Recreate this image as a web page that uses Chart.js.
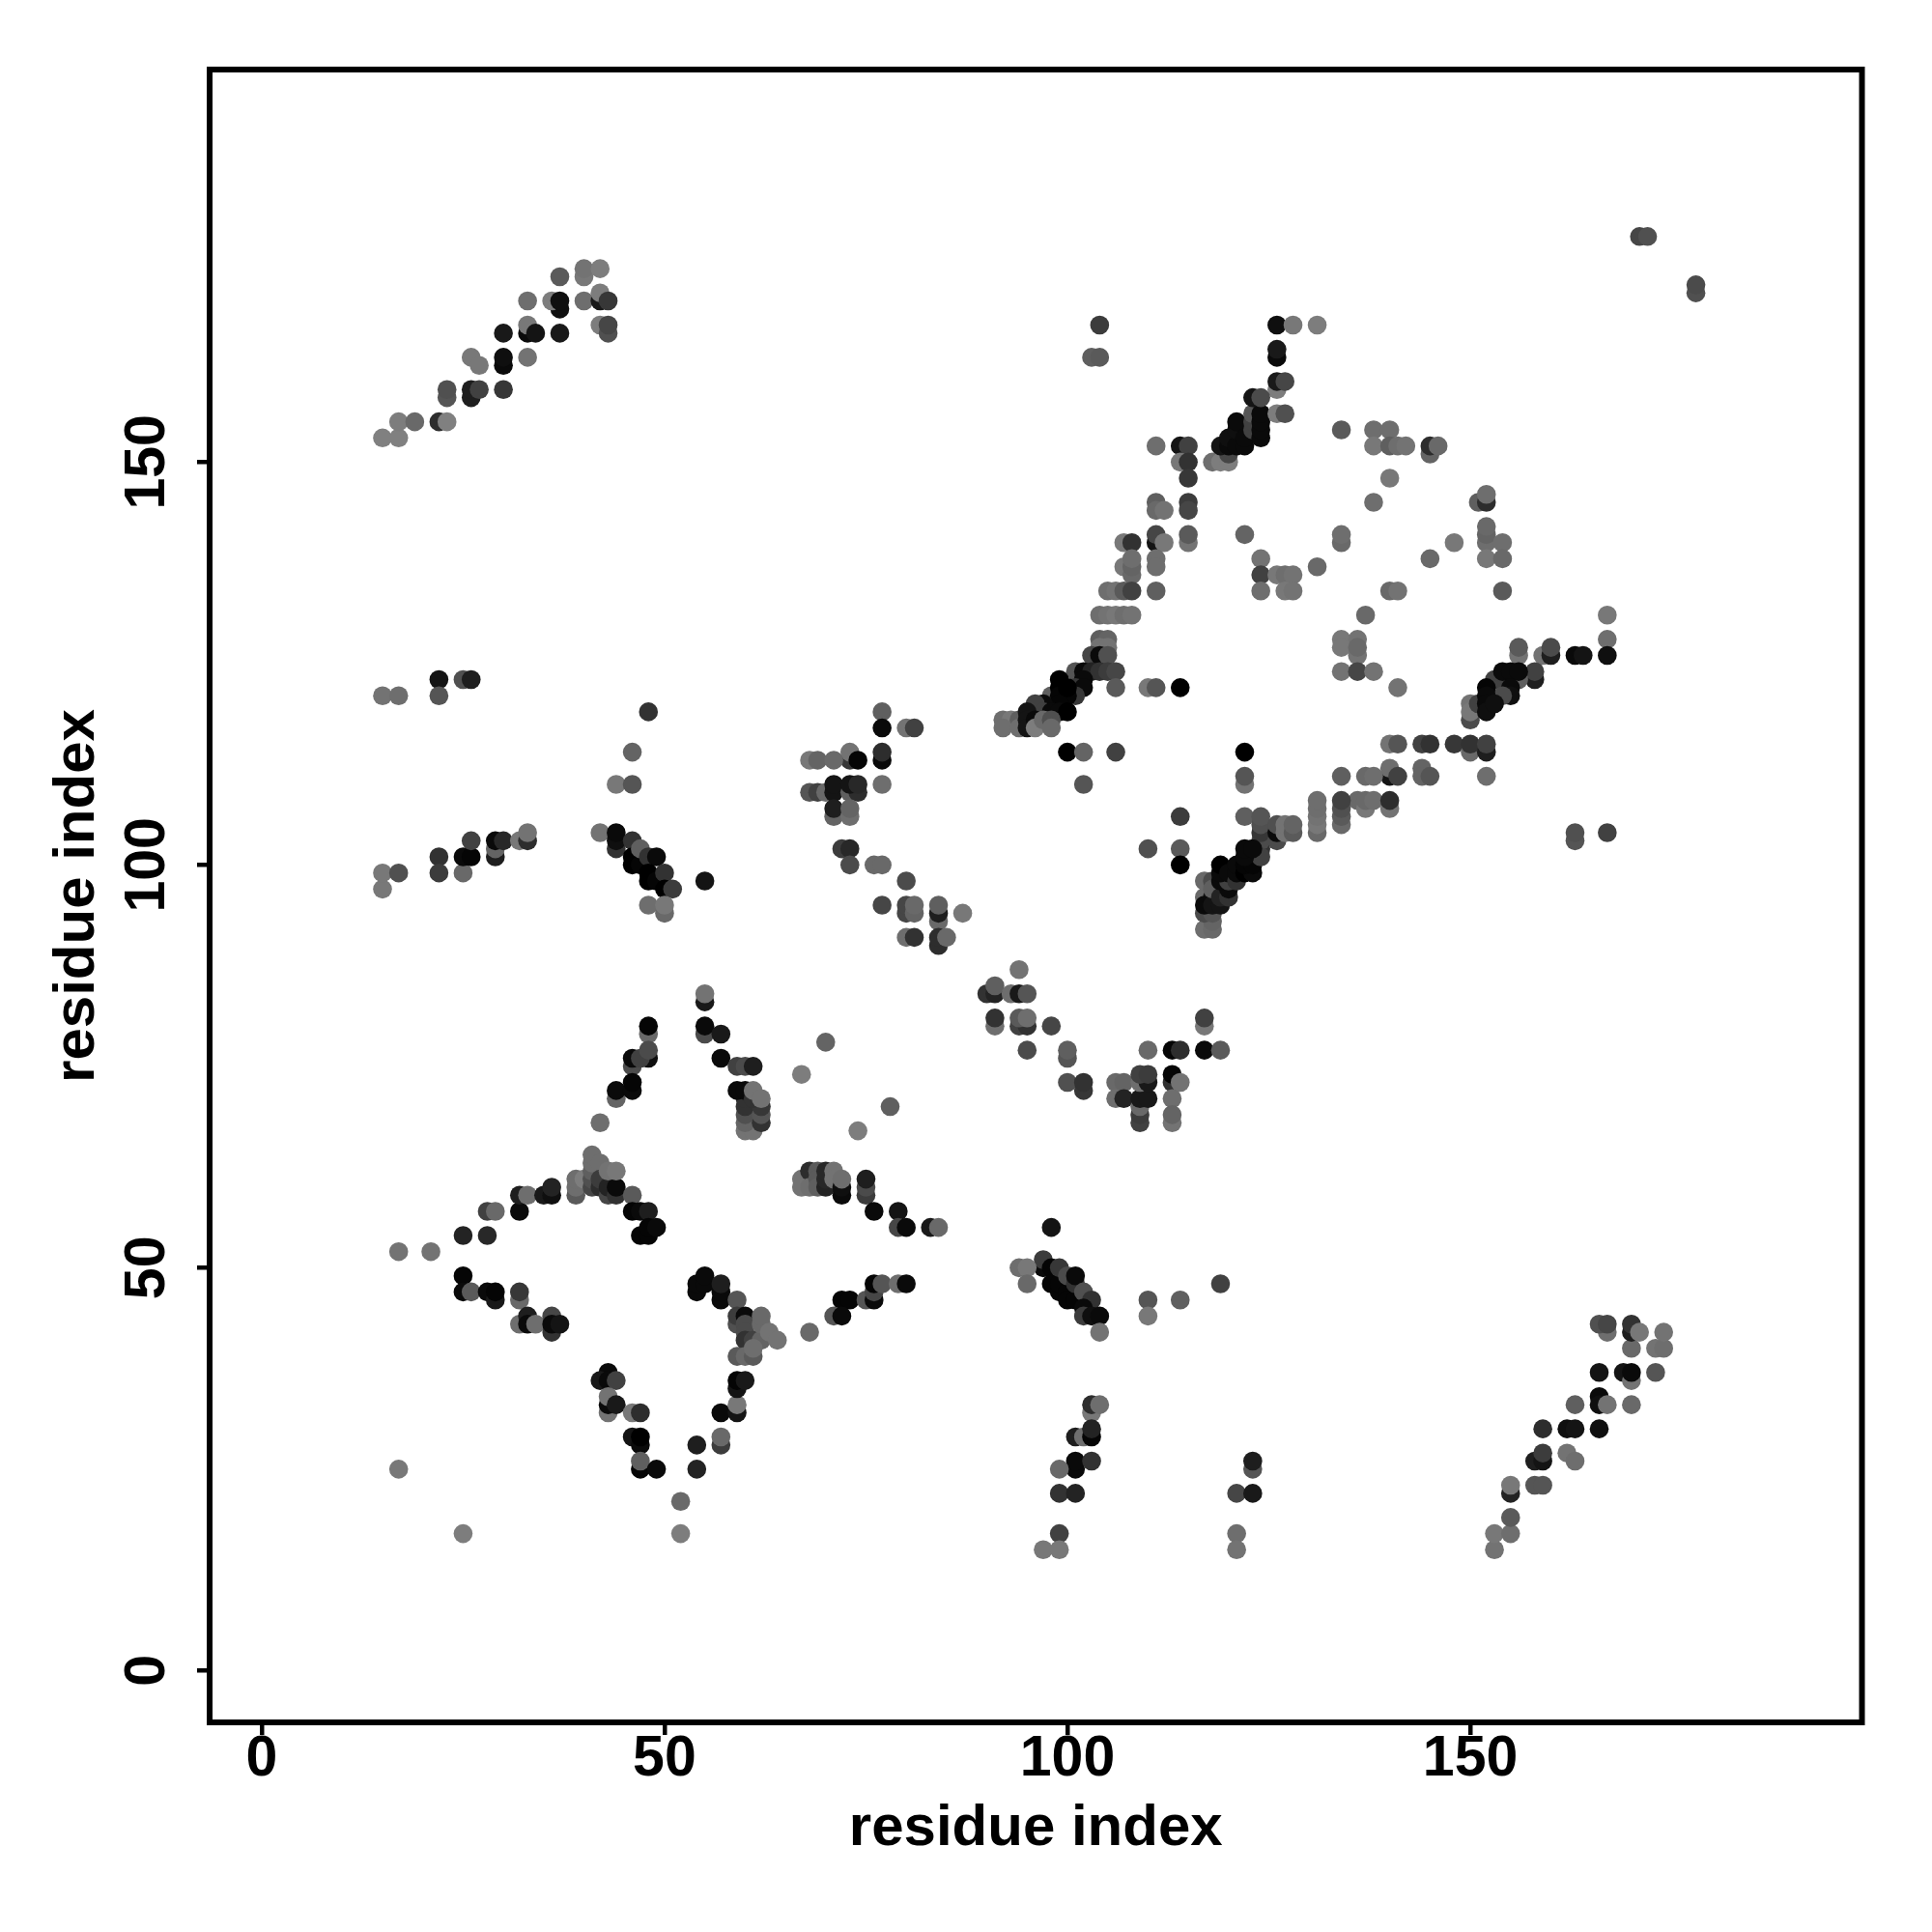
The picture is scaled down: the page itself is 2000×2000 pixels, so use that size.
<!DOCTYPE html>
<html>
<head>
<meta charset="utf-8">
<title>residue contacts</title>
<script src="https://cdn.jsdelivr.net/npm/chart.js@4/dist/chart.umd.min.js"></script>
<style>
  html, body { margin: 0; padding: 0; background: #fff; }
  canvas { display: block; }
</style>
</head>
<body>
<canvas id="myChart" width="2000" height="2000" style="width:2000px;height:2000px"></canvas>
<script>
// tick labels
const tickValues = [0, 50, 100, 150];

// contacts, one line per group of points, in drawing order
const residueX = [
  15,17,17,19,22,23,23,23,26,26,27,26,27,30,30,
  30,30,33,33,33,34,37,37,36,37,33,37,40,40,40,
  42,42,42,43,42,43,43,
  171,172,178,178,104,103,104,126,128,131,126,126,126,126,127,
  118,119,120,120,119,120,120,121,122,121,121,122,123,123,123,
  124,124,124,124,123,124,126,127,111,114,115,114,115,115,115,
  115,111,111,112,115,115,111,111,112,107,108,107,108,108,108,
  111,111,105,106,107,108,111,104,105,106,107,108,104,105,104,
  105,103,104,105,101,102,103,104,105,106,106,110,111,114,102,
  101,102,101,98,99,99,99,100,99,100,97,96,97,98,99,
  100,92,93,94,92,94,95,95,95,96,96,97,98,98,
  100,102,106,122,102,122,122,134,138,140,138,140,141,142,145,
  145,146,140,138,122,134,134,124,131,124,126,127,128,124,127,
  128,145,140,141,137,134,136,134,136,136,134,136,138,141,151,
  152,152,152,152,152,154,152,154,148,154,167,167,167,156,156,
  159,160,160,163,164,158,158,154,153,156,154,155,156,155,155,
  154,150,150,150,151,152,152,152,152,153,140,141,144,145,148,
  150,150,152,152,140,140,141,137,138,144,144,145,152,134,136,
  137,137,138,140,140,163,163,167,114,110,114,114,122,124,124,
  124,124,124,126,126,126,127,127,128,128,131,131,131,131,131,
  134,134,134,134,117,118,118,117,118,117,118,117,118,119,117,
  118,118,119,120,120,119,120,119,119,120,121,121,121,122,123,
  122,123,124,122,122,123,22,25,26,15,17,22,48,46,44,
  46,42,44,44,44,46,46,46,47,47,48,49,48,48,49,
  50,50,51,48,50,50,55,15,15,17,22,22,25,25,26,
  26,29,29,29,30,32,33,33,77,77,80,81,73,73,68,
  69,71,74,77,77,68,69,70,71,71,73,74,73,74,77,
  71,71,73,73,72,73,73,76,77,80,77,80,80,81,81,
  84,84,84,87,80,81,84,84,85,94,90,91,91,93,94,
  95,91,91,94,95,94,95,98,95,100,100,100,102,102,110,
  113,114,117,119,117,117,106,107,106,107,109,109,109,109,110,
  109,110,109,110,113,113,114,113,113,113,55,55,55,55,57,
  57,59,60,61,60,61,60,60,60,60,62,62,62,59,60,
  61,61,62,48,48,48,46,46,47,48,44,44,46,46,42,
  70,67,78,74,21,17,25,28,25,25,26,28,29,29,32,
  32,28,29,32,32,33,35,36,36,39,39,39,40,41,41,
  41,41,41,42,42,42,43,43,44,44,43,44,46,46,47,
  48,47,48,48,49,32,33,33,34,36,36,36,37,54,54,
  55,55,57,57,57,59,59,59,60,60,60,60,61,62,62,
  62,63,64,59,60,61,61,43,42,43,44,43,43,43,44,
  46,47,46,47,47,47,47,49,17,25,52,52,54,54,57,
  57,57,59,59,59,59,60,67,67,68,68,69,69,69,70,
  70,70,71,71,72,72,72,75,75,75,76,79,79,80,83,
  84,98,97,97,94,95,95,98,98,99,99,100,99,100,101,
  100,101,101,102,103,102,102,103,104,104,110,110,114,119,103,
  103,104,101,102,103,103,72,73,75,76,76,76,77,79,80,
  71,72,68,101,101,103,99,99,101,99,97,99,123,123,121,
  123,121,121,153,153,155,155,155,155,158,159,158,159,159,159,
  162,163,162,163,166,163,166,166,167,170,166,169,170,170,173,
  170,173,174,167,166,167,170,170,171,174
];
const residueY = [
  153,153,155,155,155,155,158,159,158,159,159,163,162,159,162,
  163,166,163,166,167,166,166,169,170,170,170,173,170,173,174,
  174,170,171,170,167,166,167,
  178,178,171,172,167,163,163,167,167,167,163,164,159,160,160,
  150,150,150,151,152,152,153,152,152,154,155,153,154,155,156,
  153,154,155,156,158,158,156,156,152,152,152,150,150,148,145,
  144,145,144,144,140,141,140,141,140,140,140,137,136,137,138,
  138,137,134,134,134,134,134,131,131,131,131,131,128,128,127,
  127,126,126,126,124,124,124,124,124,124,122,122,122,122,123,
  122,122,121,121,123,122,121,121,120,122,120,120,119,119,119,
  119,118,118,118,117,117,119,118,117,118,117,118,118,117,
  114,114,114,114,110,110,111,154,154,154,152,152,152,152,151,
  152,152,148,145,141,140,141,138,137,136,136,136,136,134,134,
  134,138,134,134,131,128,128,127,126,127,124,124,124,122,145,
  145,146,140,141,142,140,138,138,140,134,131,128,126,126,127,
  126,126,127,126,126,123,124,123,123,123,124,124,124,122,121,
  121,118,120,119,120,122,121,120,119,120,115,115,115,115,115,
  114,115,114,115,111,112,111,111,111,112,111,111,111,111,108,
  107,108,108,107,108,103,104,104,106,102,102,100,106,102,103,
  104,105,106,103,104,105,104,105,104,105,104,105,106,107,108,
  105,106,107,108,92,92,93,94,94,96,96,95,95,95,98,
  98,97,96,96,97,98,98,99,100,99,98,99,100,99,99,
  100,100,101,101,102,102,123,123,123,121,121,121,119,114,110,
  110,104,102,103,104,103,101,100,100,102,101,101,99,98,98,
  99,97,97,95,94,95,98,97,99,99,101,99,99,101,101,
  103,101,102,103,103,103,103,104,119,117,117,117,113,114,113,
  113,113,113,113,114,109,109,109,109,110,109,109,110,110,110,
  106,107,106,107,102,102,100,100,100,98,95,94,95,94,95,
  93,94,95,94,91,91,90,91,91,87,84,84,85,84,84,
  84,80,81,80,80,81,81,80,77,76,77,73,72,73,77,
  77,77,77,77,80,81,73,73,71,71,68,69,70,71,71,
  73,73,74,74,73,74,73,71,68,69,83,84,79,80,79,
  76,75,75,75,67,67,68,69,70,71,68,69,70,72,72,
  71,72,71,79,80,76,75,76,76,77,71,72,72,73,68,
  78,74,70,67,52,52,54,54,49,47,47,47,46,47,46,
  47,57,57,57,59,59,59,59,60,59,60,61,61,60,61,
  62,63,64,63,60,61,59,60,59,60,62,62,59,57,57,
  57,54,54,55,55,43,44,43,43,44,42,43,43,47,48,
  48,49,46,47,48,46,43,44,44,43,42,41,41,41,43,
  44,42,41,39,39,39,40,37,36,36,36,32,33,34,33,
  32,32,29,28,29,25,26,25,25,17,21,17,28,25,28,
  29,32,32,33,35,36,36,61,60,62,60,62,61,60,60,
  61,62,62,61,59,60,61,59,60,61,57,57,55,55,55,
  55,55,50,51,50,50,48,50,48,47,48,47,50,46,46,
  49,48,49,47,46,45,44,44,44,42,46,44,46,48,32,
  33,33,29,29,29,30,46,46,46,46,47,48,48,48,48,
  44,44,42,25,26,26,25,22,22,17,15,15,25,26,22,
  22,17,15,15,17,17,19,22,23,23,23,26,26,27,30,
  27,26,30,30,30,33,34,33,33,33,37,37,36,37,37,
  40,40,40,42,43,43,42,43,42,42
];
const contactScore = [
  7,7,10,30,90,7,50,55,105,105,70,15,15,80,125,
  120,110,20,125,15,115,110,120,10,120,25,45,25,15,20,
  10,110,10,80,10,55,65,
  65,55,55,60,75,40,45,120,15,10,125,110,10,110,65,
  25,10,10,65,115,125,120,125,125,120,125,125,70,70,50,
  125,125,125,125,115,60,10,55,25,115,70,15,85,80,75,
  65,40,30,20,20,45,115,65,15,15,85,15,30,35,25,
  25,25,25,20,45,70,40,25,20,15,25,20,40,35,20,
  20,65,125,55,50,125,100,85,75,65,45,15,50,135,125,
  80,125,80,40,135,135,130,130,130,135,125,70,70,125,125,
  135,25,15,40,25,25,115,115,115,125,10,30,55,30,
  135,35,70,135,50,20,50,45,25,25,15,40,25,20,35,
  90,30,15,25,35,30,25,20,30,70,15,25,20,25,15,
  20,30,30,20,30,15,20,15,20,30,20,65,20,20,40,
  90,25,25,35,30,25,15,30,15,45,15,25,120,20,45,
  20,105,60,125,115,105,70,80,70,40,125,125,125,125,120,
  60,60,20,15,70,130,125,125,120,120,20,50,70,85,80,
  30,85,105,70,115,25,70,30,25,35,35,50,25,40,30,
  15,30,25,20,90,50,55,70,75,55,45,135,40,85,60,
  80,55,50,60,125,55,20,20,45,35,30,15,20,25,25,
  30,45,55,70,25,30,35,60,50,30,115,125,115,115,30,
  60,40,100,85,125,125,70,125,135,125,85,125,125,135,125,
  130,130,70,125,125,125,115,55,105,20,25,50,85,35,15,
  50,20,85,120,125,85,135,135,130,40,85,125,135,135,130,
  85,135,75,25,30,15,115,15,15,55,85,75,30,125,130,
  70,105,35,125,95,15,90,20,40,125,20,70,80,20,15,
  35,30,130,125,90,50,70,30,115,115,40,90,115,95,25,
  35,105,25,35,75,95,60,30,30,60,65,65,65,35,30,
  30,105,40,15,25,85,90,90,30,20,85,100,40,25,110,
  50,25,85,70,85,45,25,65,60,50,40,55,80,85,30,
  130,90,125,45,15,70,30,35,25,100,70,75,30,110,110,
  25,110,70,75,85,130,20,25,20,35,110,20,60,125,110,
  125,70,60,105,20,20,35,55,85,85,85,50,80,125,125,
  85,20,20,30,130,120,60,125,70,60,35,125,125,130,25,
  35,10,40,10,20,20,100,95,130,125,45,125,110,130,30,
  80,70,30,125,105,25,110,120,100,45,25,25,10,65,55,
  40,25,25,25,90,75,65,100,85,125,20,15,45,130,125,
  105,130,130,130,125,25,105,125,25,65,85,125,115,125,125,
  125,125,125,125,105,50,55,75,125,60,60,85,70,35,30,
  30,20,20,45,30,45,25,125,110,125,70,20,125,20,110,
  15,90,115,125,135,130,40,125,15,10,30,10,105,100,75,
  30,125,115,15,115,130,110,20,20,90,25,45,45,40,100,
  95,95,20,20,125,120,25,75,60,105,125,115,65,125,110,
  30,115,125,75,25,15,30,130,130,130,130,130,80,130,130,
  60,85,125,55,85,125,75,120,125,20,50,15,40,70,15,
  90,25,105,25,130,100,130,130,50,125,65,130,50,25,125,
  50,125,30,125,125,85,30,85,100,70,15,15,50,105,65,
  110,25,20,20,15,25,45,100,15,50,50,105,115,75,90,
  20,25,120,115,120,40,125,120,20,30,115,115,20,125,50,
  30,20,25,25,55,65,105,85,15,20
];

const maxScore = 135;
const greyOf = function (score) {
  const g = maxScore - score;
  return "rgb(" + g + "," + g + "," + g + ")";
};

// box round the plot, like R's box()
const framePlugin = {
  id: "frame",
  afterDraw: function (chart) {
    const a = chart.chartArea;
    const c = chart.ctx;
    c.save();
    c.strokeStyle = "#000";
    c.lineWidth = 6;
    c.strokeRect(a.left, a.top, a.right - a.left, a.bottom - a.top);
    c.restore();
  },
};

const tickFont = { family: "Liberation Sans", size: 59, weight: "bold" };
const titleFont = { family: "Liberation Sans", size: 60, weight: "bold" };

const useTicks = function (axis) {
  axis.ticks = tickValues.map(function (v) {
    return { value: v };
  });
};

var ctx = document.getElementById("myChart").getContext("2d");
var myChart = new Chart(ctx, {
  type: "scatter",
  data: {
    datasets: [
      {
        label: "contacts",
        data: residueX.map(function (x, i) {
          return { x: x, y: residueY[i] };
        }),
        pointRadius: 9.8,
        pointBorderWidth: 0,
        pointBackgroundColor: contactScore.map(greyOf),
      },
    ],
  },
  options: {
    responsive: false,
    devicePixelRatio: 1,
    animation: false,
    layout: {
      padding: { left: 0, top: 72, right: 72.5, bottom: 0 },
    },
    plugins: {
      legend: { display: false },
      tooltip: { enabled: false },
    },
    scales: {
      x: {
        type: "linear",
        min: -6.46,
        max: 198.61,
        afterBuildTicks: useTicks,
        afterFit: function (axis) {
          axis.height = 217;
        },
        border: { display: false },
        grid: {
          drawOnChartArea: false,
          color: "#000",
          lineWidth: 4.5,
          tickLength: 13,
        },
        ticks: {
          color: "#000",
          font: tickFont,
          padding: -10,
          maxRotation: 0,
          autoSkip: false,
        },
        title: {
          display: true,
          text: "residue index",
          color: "#000",
          font: titleFont,
          padding: { top: 0, bottom: 70.5 },
        },
      },
      y: {
        type: "linear",
        min: -6.43,
        max: 198.72,
        afterBuildTicks: useTicks,
        afterFit: function (axis) {
          axis.width = 217;
        },
        border: { display: false },
        grid: {
          drawOnChartArea: false,
          color: "#000",
          lineWidth: 4.5,
          tickLength: 13,
        },
        ticks: {
          color: "#000",
          font: tickFont,
          padding: 1,
          minRotation: 90,
          maxRotation: 90,
          crossAlign: "center",
          autoSkip: false,
        },
        title: {
          display: true,
          text: "residue index",
          color: "#000",
          font: titleFont,
          padding: { top: 44.8, bottom: 0 },
        },
      },
    },
  },
  plugins: [framePlugin],
});
</script>
</body>
</html>
